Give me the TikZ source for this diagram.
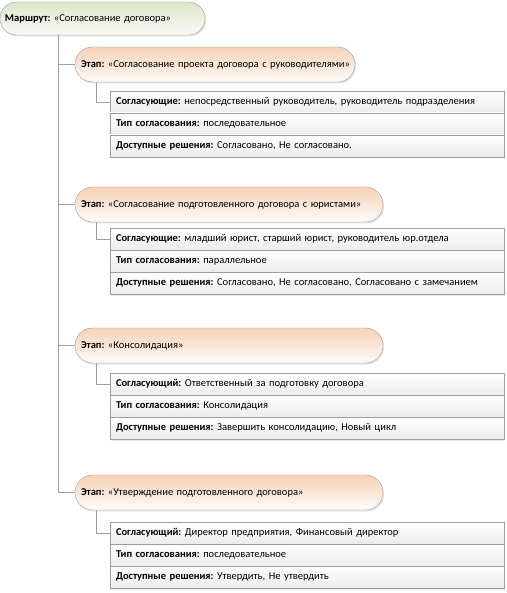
\documentclass[tikz,border=0pt]{standalone}
\usepackage{fontspec}
\setmainfont{Carlito}
\usetikzlibrary{positioning,shadows}
\definecolor{linegray}{RGB}{158,158,158}
\definecolor{routetop}{RGB}{221,229,203}
\definecolor{stagetop}{RGB}{246,210,184}
\definecolor{rowbottom}{RGB}{236,236,236}
\frenchspacing
\hfuzz=20pt
\tikzset{
    route/.style={draw=linegray, rounded corners=16.5pt, top color=routetop, bottom color=routetop!15,
        minimum height=33pt, inner xsep=5pt, inner ysep=0pt, outer sep=0pt, align=left, anchor=north west,
        drop shadow={shadow xshift=1.2pt, shadow yshift=-1.5pt, fill=black!22}},
    stage/.style={route, rounded corners=17.5pt, top color=stagetop, bottom color=stagetop!10,
        minimum height=35pt, inner xsep=6pt},
    rowbox/.style={draw=linegray, top color=white, bottom color=rowbottom, minimum height=22pt,
        text width=382pt, inner xsep=6pt, inner ysep=0pt, outer sep=0pt, align=left, anchor=north west,
        drop shadow={shadow xshift=1.2pt, shadow yshift=-1.5pt, fill=black!18}},
    link/.style={draw=linegray, line width=0.8pt}
}
\begin{document}
\begin{tikzpicture}[x=1pt, y=-1pt, font=\fontsize{10.5}{12}\selectfont]
            \useasboundingbox (0,0) rectangle (506,593);

            %маршрут
            \node[route, text width=195pt] (route) at (0,2) {\textbf{Маршрут:} «Согласование договора»};

            %этапы
            \node[stage, text width=268pt] (st1) at (75,47) {\mbox{\textbf{Этап:} «Согласование проекта договора с руководителями»}};
            \node[stage, text width=296pt] (st2) at (75,187) {\textbf{Этап:} «Согласование подготовленного договора с юристами»};
            \node[stage, text width=296pt] (st3) at (75,328) {\textbf{Этап:} «Консолидация»};
            \node[stage, text width=296pt] (st4) at (75,475) {\textbf{Этап:} «Утверждение подготовленного договора»};

            %параметры этапа 1
            \node[rowbox] (r1a) at (110,91) {\textbf{Согласующие:} непосредственный руководитель, руководитель подразделения};
            \node[rowbox, below=0pt of r1a] (r1b) {\textbf{Тип согласования:} последовательное};
            \node[rowbox, below=0pt of r1b] (r1c) {\textbf{Доступные решения:} Согласовано, Не согласовано.};

            %параметры этапа 2
            \node[rowbox] (r2a) at (110,228) {\textbf{Согласующие:} младший юрист, старший юрист, руководитель юр.отдела};
            \node[rowbox, below=0pt of r2a] (r2b) {\textbf{Тип согласования:} параллельное};
            \node[rowbox, below=0pt of r2b] (r2c) {\textbf{Доступные решения:} Согласовано, Не согласовано, Согласовано с замечанием};

            %параметры этапа 3
            \node[rowbox] (r3a) at (110,373) {\textbf{Согласующий:} Ответственный за подготовку договора};
            \node[rowbox, below=0pt of r3a] (r3b) {\textbf{Тип согласования:} Консолидация};
            \node[rowbox, below=0pt of r3b] (r3c) {\textbf{Доступные решения:} Завершить консолидацию, Новый цикл};

            %параметры этапа 4
            \node[rowbox] (r4a) at (110,522) {\textbf{Согласующий:} Директор предприятия, Финансовый директор};
            \node[rowbox, below=0pt of r4a] (r4b) {\textbf{Тип согласования:} последовательное};
            \node[rowbox, below=0pt of r4b] (r4c) {\textbf{Доступные решения:} Утвердить, Не утвердить};

            %ствол от маршрута к этапам
            \coordinate (trunk) at ([xshift=58pt]route.south west);
            \draw[link] (trunk) |- (st4.west);
            \draw[link] (trunk |- st1.west) -- (st1.west);
            \draw[link] (trunk |- st2.west) -- (st2.west);
            \draw[link] (trunk |- st3.west) -- (st3.west);

            %от этапа к параметрам
            \draw[link] ([xshift=21pt]st1.south west) |- (r1a.west);
            \draw[link] ([xshift=21pt]st2.south west) |- (r2a.west);
            \draw[link] ([xshift=21pt]st3.south west) |- (r3a.west);
            \draw[link] ([xshift=21pt]st4.south west) |- (r4a.west);
        \end{tikzpicture}
\end{document}
